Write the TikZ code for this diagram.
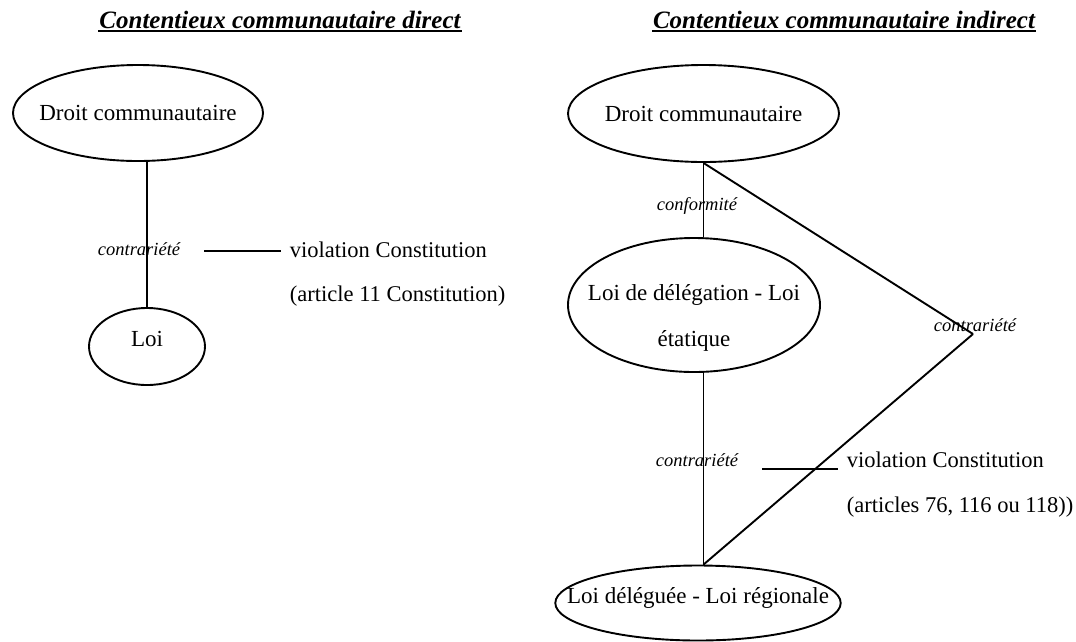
\documentclass[tikz,border=0pt]{standalone}
\usepackage{fontspec}
\setmainfont{Liberation Serif}
\usetikzlibrary{shapes.geometric}

\begin{document}
\begin{tikzpicture}[-,x=1pt,y=-1pt,line width=1.9pt,
  main node/.style={ellipse,draw,inner xsep=-30pt,inner ysep=0pt,
    font=\fontsize{23}{27}\selectfont},
  rel node/.style={anchor=base,inner sep=0pt,
    font=\fontsize{18.5}{22}\selectfont\itshape},
  txt node/.style={anchor=base west,inner xsep=8pt,inner ysep=0pt,
    font=\fontsize{22.5}{27}\selectfont},
  title node/.style={anchor=base,inner sep=0pt,
    font=\fontsize{25}{30}\selectfont\bfseries\itshape}]

  \useasboundingbox (0,0) rectangle (1076,641);

  % contentieux direct
  \node[title node] (t1) at (280,28) {Contentieux communautaire direct};
  \node[main node,minimum width=250pt,minimum height=96pt] (1) at (138,113) {Droit communautaire};
  \node[main node,minimum width=116pt,minimum height=77pt,
    text height=15pt,text depth=16pt] (2) at (147,346.5) {Loi};
  \node[rel node] (c1) at (139,255) {contrariété};
  \node[txt node] (v1) at (281,257) {violation Constitution};
  \node[txt node] (a1) at (281,301) {(article 11 Constitution)};
  \coordinate (s1) at (204,251);

  % contentieux indirect
  \node[title node] (t2) at (844,28) {Contentieux communautaire indirect};
  \node[main node,minimum width=271pt,minimum height=97pt] (3) at (703.5,113.5) {Droit communautaire};
  \node[main node,minimum width=252pt,minimum height=134pt,align=center,
    font=\fontsize{23}{46}\selectfont,text height=86pt,text depth=4pt]
    (4) at (694,305) {Loi de délégation - Loi\\étatique};
  \node[main node,minimum width=280pt,minimum height=75pt,
    text height=15pt,text depth=15pt] (5) at (698,603) {Loi déléguée - Loi régionale};
  \node[rel node] (c2) at (697,210) {conformité};
  \node[rel node] (c3) at (975,331) {contrariété};
  \node[rel node] (c4) at (697,466) {contrariété};
  \node[txt node] (v2) at (838,467) {violation Constitution};
  \node[txt node] (a2) at (838,512) {(articles 76, 116 ou 118))};
  \coordinate (s2) at (762,469);
  \coordinate (k) at (973,334);

  % soulignement des titres
  \draw[line width=2pt] ([yshift=-3pt]t1.base west) -- ([yshift=-3pt]t1.base east);
  \draw[line width=2pt] ([yshift=-3pt]t2.base west) -- ([yshift=-3pt]t2.base east);

\path
	(2.north) edge (2.north |- 1.south)
	(s1) edge (s1 -| v1.west)
	(3.south) edge (3.south |- 4.north)
	(3.south |- 4.south) edge (3.south |- 5.north)
	(3.south) edge (k)
	(k) edge (3.south |- 5.north)
	(s2) edge (s2 -| v2.west);
\end{tikzpicture}
\end{document}
